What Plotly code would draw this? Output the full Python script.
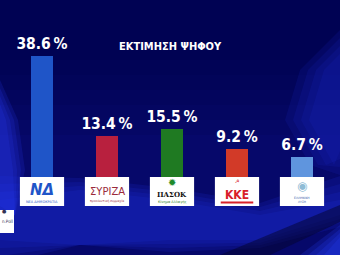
import plotly.graph_objects as go

parties = ["ΝΔ", "ΣΥΡΙΖΑ", "ΠΑΣΟΚ", "ΚΚΕ", "ΕΛΛΗΝΙΚΗ ΛΥΣΗ"]
values = [38.6, 13.4, 15.5, 9.2, 6.7]
colors = ["#1f55c8", "#b8203e", "#1f7a22", "#d23a28", "#5f95de"]
title_text = "ΕΚΤΙΜΗΣΗ ΨΗΦΟΥ"

W, H = 340, 255
x = list(range(len(parties)))

fig = go.Figure()
fig.add_trace(go.Bar(
    x=x, y=values, width=0.35,
    marker=dict(color=colors, line=dict(width=0)),
    text=[f"{v:.1f}\u2009%" for v in values],
    textposition="outside", constraintext="none", cliponaxis=False,
    textfont=dict(family="DejaVu Sans Condensed", size=15.5, color="white", weight="bold"),
    hoverinfo="skip",
))

def px(xp, yp):
    return f"{xp/W:.4f},{1-yp/H:.4f}"

shapes = []
def blob(pts, color, op):
    path = "M " + " L ".join(px(a, b) for a, b in pts) + " Z"
    shapes.append(dict(type="path", xref="paper", yref="paper", path=path,
                       fillcolor=color, opacity=op, line=dict(width=0), layer="below"))

for k in range(6):
    shapes.append(dict(type="rect", xref="paper", yref="paper", x0=0, x1=1, y0=1 - (60 + k * 15)/H, y1=1,
                       fillcolor="#020230", opacity=0.08, line=dict(width=0), layer="below"))
for k in range(4):
    d = k * 8
    blob([(0, 200 - d), (80, 190 - d/2), (170, 200 - d/2), (260, 215 - d/2), (340, 200 - d),
          (340, 215 + d/2), (260, 240 + d/3), (170, 240 + d/2), (80, 245), (0, 240 + d)], "#2030e0", 0.16)
    blob([(0, 80 + d), (18 - d/2, 120), (25 - d/2, 170), (15, 215), (0, 230 - d)], "#2a40ff", 0.16)
    blob([(340, 30 + d), (300 + d, 70), (285 + d, 120), (310 + d, 165), (340, 175 - d)], "#2030d8", 0.13)
    blob([(300 + d, 255), (340, 225 + d/2), (340, 255)], "#2a40ff", 0.2)
blob([(220, 255), (340, 205), (340, 222), (270, 255)], "#03032e", 0.5)

annotations = []
annotations.append(dict(text=f"<b>{title_text}</b>", x=170/W, xref="paper", y=1 - 38/H, yref="paper",
                        showarrow=False, font=dict(family="DejaVu Sans Condensed", size=11, color="white")))

hw = 0.34
y_top, y_bot = 1 - 177/H, 1 - 206/H
for i in x:
    shapes.append(dict(type="rect", xref="x", yref="paper", x0=i - hw, x1=i + hw,
                       y0=y_bot, y1=y_top, fillcolor="white", line=dict(width=0), layer="above"))
shapes.append(dict(type="rect", xref="x", yref="paper", x0=3 - 0.25, x1=3 + 0.25,
                   y0=1 - 203.5/H, y1=1 - 201.5/H, fillcolor="#d8202a", line=dict(width=0), layer="above"))

def ann(i, text, ypx, size, color, family="DejaVu Sans", bold=False):
    annotations.append(dict(text=(f"<b>{text}</b>" if bold else text), x=i, xref="x",
                            y=1 - ypx/H, yref="paper", yanchor="middle", borderpad=0,
                            showarrow=False, font=dict(family=family, size=size, color=color)))

ann(0, "<i>ΝΔ</i>", 190, 15, "#1f55c8", "DejaVu Sans", True)
ann(0, "ΝΕΑ ΔΗΜΟΚΡΑΤΙΑ", 202, 3.5, "#1f55c8")
ann(1, "ΣΥΡΙΖΑ", 191, 10, "#9a2a3a", "DejaVu Sans")
ann(1, "προοδευτική συμμαχία", 201, 3, "#9a2a3a")
ann(2, "✹", 182.5, 10, "#1f8a2a", bold=True)
ann(2, "ΠΑΣΟΚ", 194.5, 7, "#111111", "DejaVu Serif", True)
ann(2, "Κίνημα Αλλαγής", 201.8, 3.5, "#1f7a22")
ann(3, "☭", 181, 5, "#d8202a")
ann(3, "ΚΚΕ", 194.5, 12, "#d8202a", "DejaVu Sans Condensed", True)
ann(4, "◉", 186, 12, "#8fbcd6")
ann(4, "ΕΛΛΗΝΙΚΗ", 197.8, 3, "#3355aa")
ann(4, "ΛΥΣΗ", 201.8, 3, "#3355aa")

shapes.append(dict(type="rect", xref="paper", yref="paper", x0=0, x1=14/W, y0=1 - 233/H, y1=1 - 210/H,
                   fillcolor="white", line=dict(width=0), layer="above"))
annotations.append(dict(text="n.Poll", x=0, xref="paper", xanchor="left", y=1 - 226/H, yref="paper",
                        showarrow=False, font=dict(family="DejaVu Sans Condensed", size=4.5, color="#333355")))
annotations.append(dict(text="●", x=0, xref="paper", xanchor="left", y=1 - 216/H, yref="paper",
                        showarrow=False, font=dict(family="DejaVu Sans", size=5, color="#333355")))

fig.update_layout(
    width=W, height=H, margin=dict(l=0, r=0, t=0, b=0),
    paper_bgcolor="#06086a", plot_bgcolor="rgba(0,0,0,0)",
    showlegend=False, shapes=shapes, annotations=annotations,
    xaxis=dict(range=[-42/65, 298/65], visible=False, fixedrange=True),
    yaxis=dict(range=[-77/3.15, 178/3.15], visible=False, fixedrange=True),
    bargap=0,
)
fig.write_html("out.html")
